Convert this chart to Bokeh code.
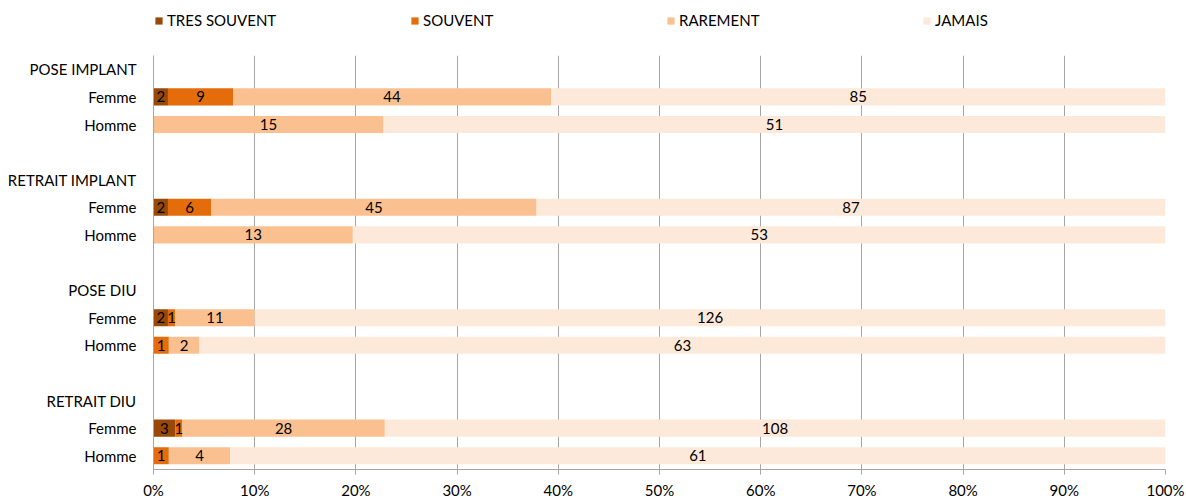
from bokeh.plotting import figure
from bokeh.layouts import column
from bokeh.models import ColumnDataSource, Range1d, FixedTicker, NumeralTickFormatter, Legend, LegendItem
from bokeh.core.properties import value
from bokeh.embed import file_html
from bokeh.resources import INLINE

groups = ["POSE IMPLANT", "RETRAIT IMPLANT", "POSE DIU", "RETRAIT DIU"]
sexes = ["Femme", "Homme"]
series = ["TRES SOUVENT", "SOUVENT", "RAREMENT", "JAMAIS"]
colors = ["#984807", "#E46C0A", "#FAC090", "#FDE9D9"]

# counts per row: POSE IMPLANT F/H, RETRAIT IMPLANT F/H, POSE DIU F/H, RETRAIT DIU F/H
tres_souvent = [2, 0, 2, 0, 2, 0, 3, 0]
souvent = [9, 0, 6, 0, 1, 1, 1, 1]
rarement = [44, 15, 45, 13, 11, 2, 28, 4]
jamais = [85, 51, 87, 53, 126, 63, 108, 61]

x_ticks = [0, 0.1, 0.2, 0.3, 0.4, 0.5, 0.6, 0.7, 0.8, 0.9, 1.0]

FONT = "Lato"
FS = "15px"
GRAY = "#a6a6a6"

rows_y = []
for g in range(len(groups)):
    for s in range(len(sexes)):
        rows_y.append(4 * g + 1 + s)

totals = [a + b + c + d for a, b, c, d in zip(tres_souvent, souvent, rarement, jamais)]
data = {"y": rows_y}
keys = ["ts", "so", "ra", "ja"]
counts = [tres_souvent, souvent, rarement, jamais]
for k, c in zip(keys, counts):
    data[k] = [v / t for v, t in zip(c, totals)]
src = ColumnDataSource(data)

lx, ly, lt = [], [], []
for i, y in enumerate(rows_y):
    cum = 0.0
    for c in counts:
        v = c[i]
        f = v / totals[i]
        if v > 0:
            lx.append(cum + f / 2)
            ly.append(y)
            lt.append(str(v))
        cum += f
lab = ColumnDataSource(dict(x=lx, y=ly, t=lt))

# ---- main chart ----
p = figure(width=1186, height=456, x_range=Range1d(0, 1), y_range=Range1d(14.5, -0.5),
           output_backend="svg", toolbar_location=None,
           min_border_left=153, min_border_right=21, min_border_top=10, min_border_bottom=29)
p.outline_line_color = None
p.background_fill_color = "white"

rs = p.hbar_stack(keys, y="y", height=0.62, color=colors, line_color=None, source=src)

p.text(x="x", y="y", text="t", source=lab, text_align="center", text_baseline="middle",
       text_font=value(FONT), text_font_size=FS, text_color="#000000")

p.xaxis.ticker = FixedTicker(ticks=x_ticks)
p.xaxis.formatter = NumeralTickFormatter(format="0%")
p.xaxis.axis_line_color = GRAY
p.xaxis.major_tick_line_color = GRAY
p.xaxis.major_tick_out = 5
p.xaxis.major_tick_in = 0
p.xaxis.minor_tick_line_color = None
p.xaxis.major_label_standoff = 6
p.xaxis.major_label_text_font = FONT
p.xaxis.major_label_text_font_size = FS
p.xaxis.major_label_text_color = "#000000"

tick_pos = []
overrides = {}
for g, name in enumerate(groups):
    tick_pos.append(4 * g)
    overrides[4 * g] = name
    for s, sx in enumerate(sexes):
        tick_pos.append(4 * g + 1 + s)
        overrides[4 * g + 1 + s] = sx
p.yaxis.ticker = FixedTicker(ticks=tick_pos)
p.yaxis.major_label_overrides = overrides
p.yaxis.axis_line_color = GRAY
p.yaxis.major_tick_line_color = None
p.yaxis.minor_tick_line_color = None
p.yaxis.major_tick_out = 0
p.yaxis.major_label_standoff = 17
p.yaxis.major_label_text_font = FONT
p.yaxis.major_label_text_font_size = FS
p.yaxis.major_label_text_color = "#000000"

p.xgrid.grid_line_color = GRAY
p.xgrid.ticker = FixedTicker(ticks=x_ticks)
p.ygrid.grid_line_color = None

# ---- legend strip ----
pl = figure(width=1186, height=45, x_range=Range1d(0, 1), y_range=Range1d(0, 1),
            output_backend="svg", toolbar_location=None,
            min_border_left=0, min_border_right=0, min_border_top=0, min_border_bottom=0,
            x_axis_location=None, y_axis_location=None)
pl.outline_line_color = None
pl.grid.visible = False
dummies = [pl.hbar(y=[-10], right=[-10], left=[-11], height=1, color=c, line_color=None)
           for c in colors]
items = [LegendItem(label=series[i], renderers=[dummies[i]]) for i in range(4)]
legend = Legend(items=items, orientation="horizontal", location=(1, 16),
                glyph_width=9, glyph_height=9, label_standoff=4, label_width=243,
                spacing=0, padding=0, margin=0, label_height=14,
                label_text_font=FONT, label_text_font_size=FS, label_text_color="#000000",
                border_line_color=None, background_fill_alpha=0)
pl.add_layout(legend)

layout = column(pl, p, spacing=0)
open("out.html", "w").write(file_html(layout, INLINE))
